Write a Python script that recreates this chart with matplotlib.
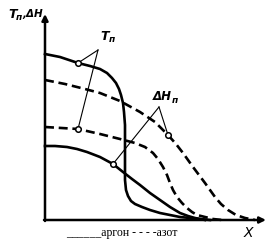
import matplotlib
matplotlib.use("Agg")
import matplotlib.pyplot as plt

# Curves (x along X axis, y along vertical axis)
tp_argon_x = [0, 15, 33, 45, 55, 62, 67, 71, 74, 76, 78, 79, 80, 80, 80, 81, 83, 86, 90, 97,
              105, 115, 125, 135, 145, 155, 165]
tp_argon_y = [166, 163, 157, 154, 151, 147, 142, 137, 131, 125, 117, 108, 95, 70, 40, 30, 24,
              19, 16, 13, 10, 7, 5, 3, 2, 1, 0]

dh_nitro_x = [0, 20, 40, 55, 75, 95, 110, 123, 131, 138, 148, 154, 160, 165, 170, 176, 183,
              191, 200, 210]
dh_nitro_y = [140, 136, 131, 127, 119, 108, 98, 85, 76, 67, 53, 45, 37, 30, 23, 16, 10, 5, 2, 0]

tp_nitro_x = [0, 33, 55, 75, 90, 100, 108, 113, 118, 122, 125, 128, 132, 137, 142, 147, 152,
              160, 168, 177]
tp_nitro_y = [93, 91, 86, 81, 77, 73, 67, 61, 53, 45, 37, 30, 23, 17, 12, 8, 5, 3, 1, 0]

dh_argon_x = [0, 10, 22, 32, 42, 55, 68, 78, 87, 95, 105, 115, 125, 135, 143, 150, 160]
dh_argon_y = [74, 74, 73, 71, 68, 63, 56, 48, 41, 35, 27, 20, 13, 7, 4, 2, 0]

# marked points (open circles)
tp_marks_x = [33, 33]
tp_marks_y = [157, 91]
dh_marks_x = [68, 123]
dh_marks_y = [56, 85]

W, H = 276, 244
fig = plt.figure(figsize=(W / 100, H / 100), dpi=100)
fig.patch.set_facecolor("white")
ax = fig.add_axes([45 / W, 24 / H, 220 / W, 205 / H])
ax.set_xlim(0, 220)
ax.set_ylim(0, 205)
ax.axis("off")

lw = 1.9
dash = (0, (3.4, 1.8))
ax.plot(tp_argon_x, tp_argon_y, color="black", lw=lw, solid_joinstyle="round", clip_on=False)
ax.plot(dh_argon_x, dh_argon_y, color="black", lw=lw, solid_joinstyle="round", clip_on=False)
ax.plot(dh_nitro_x, dh_nitro_y, color="black", lw=lw, linestyle=dash, clip_on=False)
ax.plot(tp_nitro_x, tp_nitro_y, color="black", lw=lw, linestyle=dash, clip_on=False)

# axes with arrows
ax.annotate("", xy=(0, 206), xytext=(0, -1),
            arrowprops=dict(arrowstyle="-|>", lw=1.8, color="black", mutation_scale=9,
                            shrinkA=0, shrinkB=0), annotation_clip=False)
ax.annotate("", xy=(221, 0), xytext=(-1, 0),
            arrowprops=dict(arrowstyle="-|>", lw=1.8, color="black", mutation_scale=9,
                            shrinkA=0, shrinkB=0), annotation_clip=False)

# leader lines
thin = 0.8
tp_apex = (53, 170)
for mx, my in zip(tp_marks_x, tp_marks_y):
    ax.plot([tp_apex[0], mx], [tp_apex[1], my], color="black", lw=thin, clip_on=False)
dh_apex = (114, 113)
for mx, my in zip(dh_marks_x, dh_marks_y):
    ax.plot([dh_apex[0], mx], [dh_apex[1], my], color="black", lw=thin, clip_on=False)

ax.scatter(tp_marks_x + dh_marks_x, tp_marks_y + dh_marks_y, s=16, facecolor="white",
           edgecolor="black", linewidths=1.1, zorder=5, clip_on=False)

# labels
lab = dict(fontfamily="DejaVu Sans", fontstyle="italic", fontweight="bold", color="black")
ax.text(55, 184, "T", fontsize=9, ha="left", va="center", **lab)
ax.text(63.5, 180, "п", fontsize=6.5, ha="left", va="center", **lab)
ax.text(108, 123, "ΔH", fontsize=8.5, ha="left", va="center", **lab)
ax.text(126.5, 119.5, "п", fontsize=6.5, ha="left", va="center", **lab)

ax.text(-37, 206, "T", fontsize=9, ha="left", va="center", **lab)
ax.text(-29.5, 202.5, "п", fontsize=6.5, ha="left", va="center", **lab)
ax.text(-23, 206, ",ΔH", fontsize=7.5, ha="left", va="center", **lab)

ax.text(203, -13, "X", fontsize=10, ha="center", va="center",
        fontfamily="DejaVu Sans", fontstyle="italic", color="black")

fig.text(122 / W, 1 - 233 / H, "______аргон - - - -азот", fontsize=8.5,
         fontfamily="Liberation Serif", ha="center", va="center", color="black")

fig.savefig("out.png", dpi=100, facecolor="white")
